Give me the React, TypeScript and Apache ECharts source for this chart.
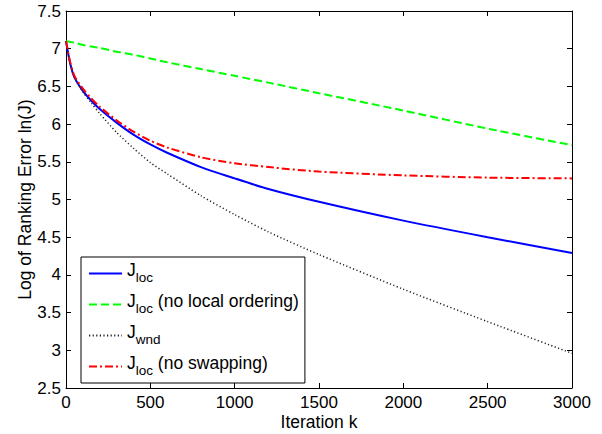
import React, { useEffect, useRef } from "react";
import * as echarts from "echarts";

const iterations = [0, 25, 50, 100, 150, 200, 300, 400, 500, 600, 800, 1000, 1200, 1500, 2000, 2500, 3000];
const jLoc = [7.1, 6.8, 6.62, 6.44, 6.31, 6.2, 6.02, 5.86, 5.73, 5.62, 5.43, 5.28, 5.14, 4.97, 4.72, 4.5, 4.29];
const jLocNoOrdering = [7.1, 7.09, 7.08, 7.05, 7.03, 7.01, 6.96, 6.92, 6.87, 6.82, 6.73, 6.64, 6.55, 6.41, 6.18, 5.94, 5.72];
const jWnd = [7.1, 6.8, 6.62, 6.43, 6.28, 6.14, 5.89, 5.68, 5.49, 5.34, 5.05, 4.8, 4.57, 4.27, 3.81, 3.38, 2.96];
const jLocNoSwapping = [7.1, 6.82, 6.64, 6.47, 6.34, 6.23, 6.05, 5.9, 5.78, 5.69, 5.56, 5.48, 5.43, 5.37, 5.32, 5.29, 5.28];

const xTicks = { min: 0, max: 3000, interval: 500 };
const yTicks = { min: 2.5, max: 7.5, interval: 0.5 };

const xTitle = "Iteration k";
const yTitle = "Log of Ranking Error ln(J)";

const seriesNames = ["Jloc", "JlocNoOrdering", "Jwnd", "JlocNoSwapping"];
const legendLabels: Record<string, string> = {
  Jloc: "{m|J}{s|loc}",
  JlocNoOrdering: "{m|J}{s|loc}{m| (no local ordering)}",
  Jwnd: "{m|J}{s|wnd}",
  JlocNoSwapping: "{m|J}{s|loc}{m| (no swapping)}",
};

const FONT = "'Liberation Sans', Arial, Helvetica, sans-serif";

function pairs(vals: number[]) {
  return iterations.map((k, i) => [k, vals[i]]);
}

export default function App() {
  const ref = useRef<HTMLDivElement>(null);
  useEffect(() => {
    document.body.style.margin = "0";
    const chart = echarts.init(ref.current!, null, { renderer: "svg" });
    const axisCommon = {
      type: "value" as const,
      axisLine: { show: true, onZero: false, lineStyle: { color: "#000", width: 1 } },
      axisTick: { show: true, inside: true, length: 5, lineStyle: { color: "#000", width: 1 } },
      splitLine: { show: false },
    };
    const labelStyle = { color: "#000", fontSize: 17, fontFamily: FONT };
    const fmt = (v: number) => String(v);
    const left = 66;
    const right = 30;
    const top = 11;
    const bottom = 46;
    const W = 602;
    const H = 434;
    chart.setOption({
      animation: false,
      backgroundColor: "#fff",
      grid: { left, right, top, bottom, containLabel: false },
      graphic: [
        {
          type: "text",
          x: (left + W - right) / 2,
          y: 422,
          style: {
            text: xTitle,
            fontSize: 17.5,
            fontFamily: FONT,
            fill: "#000",
            align: "center",
            verticalAlign: "middle",
          },
        },
        {
          type: "text",
          x: 24.5,
          y: (top + H - bottom) / 2,
          rotation: Math.PI / 2,
          style: {
            text: yTitle,
            fontSize: 17.5,
            fontFamily: FONT,
            fill: "#000",
            align: "center",
            verticalAlign: "middle",
          },
        },
      ],
      xAxis: [
        {
          ...axisCommon,
          ...xTicks,
          position: "bottom",
          axisLabel: { ...labelStyle, margin: 6, formatter: fmt, showMinLabel: true, showMaxLabel: true },
        },
        {
          ...axisCommon,
          ...xTicks,
          position: "top",
          axisLabel: { show: false },
        },
      ],
      yAxis: [
        {
          ...axisCommon,
          ...yTicks,
          position: "left",
          axisLabel: { ...labelStyle, margin: 5, formatter: fmt, showMinLabel: true, showMaxLabel: true },
        },
        {
          ...axisCommon,
          ...yTicks,
          position: "right",
          axisLabel: { show: false },
        },
      ],
      legend: {
        orient: "vertical",
        left: 81,
        top: 257,
        padding: [4, 6, 4, 7],
        itemGap: 6,
        itemWidth: 33,
        itemHeight: 14,
        backgroundColor: "#fff",
        borderColor: "#000",
        borderWidth: 1,
        borderRadius: 0,
        data: seriesNames,
        itemStyle: { color: "transparent", borderWidth: 0, borderColor: "transparent" },
        formatter: (name: string) => legendLabels[name],
        textStyle: {
          color: "#000",
          fontFamily: FONT,
          fontSize: 17.5,
          rich: {
            m: { fontSize: 17.5, fontFamily: FONT, color: "#000", lineHeight: 17, padding: [0, 0, 7, 0] },
            s: { fontSize: 13.5, fontFamily: FONT, color: "#000", lineHeight: 17, padding: [7, 0, 0, 0] },
          },
        },
      },
      series: [
        {
          name: "Jloc",
          type: "line",
          data: pairs(jLoc),
          symbol: "none",
          smooth: 0.25,
          lineStyle: { color: "#0000ff", width: 2, type: "solid" },
          itemStyle: { color: "#0000ff" },
        },
        {
          name: "JlocNoOrdering",
          type: "line",
          data: pairs(jLocNoOrdering),
          symbol: "none",
          smooth: 0.25,
          lineStyle: { color: "#00ff00", width: 2, type: [8, 4] },
          itemStyle: { color: "#00ff00" },
        },
        {
          name: "Jwnd",
          type: "line",
          data: pairs(jWnd),
          symbol: "none",
          smooth: 0.25,
          lineStyle: { color: "#222222", width: 1.5, type: [1.2, 2.4] },
          itemStyle: { color: "#222222" },
        },
        {
          name: "JlocNoSwapping",
          type: "line",
          data: pairs(jLocNoSwapping),
          symbol: "none",
          smooth: 0.25,
          lineStyle: { color: "#ff0000", width: 2, type: [8, 3, 2, 3] },
          itemStyle: { color: "#ff0000" },
        },
      ],
    });
    return () => chart.dispose();
  }, []);
  return <div ref={ref} style={{ width: 602, height: 434 }} />;
}
